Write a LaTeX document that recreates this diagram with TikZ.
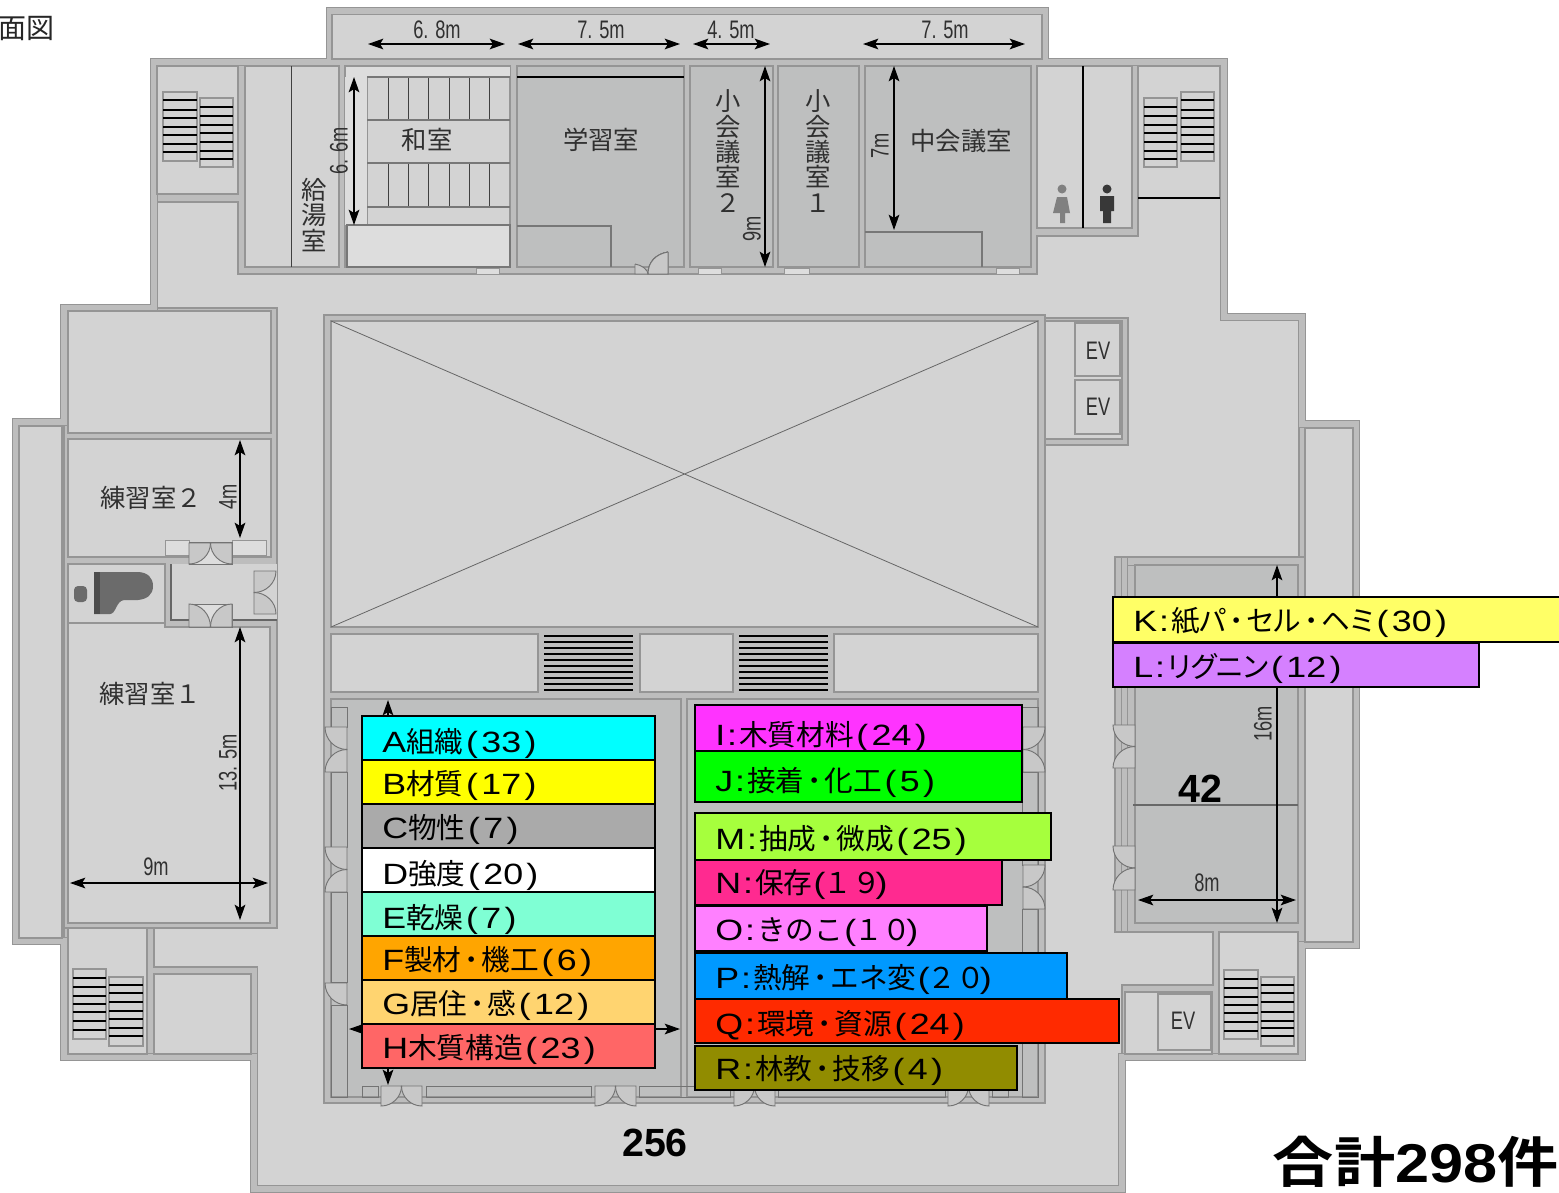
\documentclass[tikz,border=0pt]{standalone}
\usepackage{fontspec}
\usetikzlibrary{arrows.meta}
\setmainfont{Noto Sans CJK JP}[BoldFont={* Bold}]
\newfontfamily\pk[RawFeature=+palt]{Noto Sans CJK JP}
\newfontfamily\la[FakeStretch=1.22]{Liberation Sans}
\newfontfamily\dimf[FakeStretch=0.72]{Liberation Sans}
\newfontfamily\numf{Liberation Sans}
\definecolor{floorc}{HTML}{D3D3D3}
\definecolor{wallc}{HTML}{BDBDBD}
\definecolor{edgec}{HTML}{959595}
\definecolor{darkroom}{HTML}{BEBFBF}
\definecolor{lightroom}{HTML}{DDDDDD}
\definecolor{txt}{HTML}{303030}
\definecolor{cA}{RGB}{0,255,255}
\definecolor{cB}{RGB}{255,255,0}
\definecolor{cC}{RGB}{170,170,170}
\newcommand\Lt[1]{{\la\fontsize{22}{24}\selectfont #1}}
\newcommand\Pn[1]{\Lt{\kern2pt(\kern2.5pt#1\kern2.5pt)}}
\newcommand\Pf[1]{\Lt{\kern1pt(\kern-1.5pt}#1\Lt{\kern-4pt)}}
\newcommand\Cn[1]{\Lt{#1\kern1.5pt:\kern1.5pt}}
\newcommand\Dt{\kern2.2pt{\bfseries ･}\kern2.2pt}
\newcommand\Kn[1]{{\pk #1}}
\tikzset{
  wallline/.style={draw=edgec,double=wallc,double distance=4pt,line width=.8pt,line join=miter},
  block/.style={fill=wallc,draw=edgec,line width=.9pt},
  room/.style={fill=floorc,draw=edgec,line width=.9pt},
  droom/.style={fill=darkroom,draw=edgec,line width=.9pt},
  lroom/.style={fill=lightroom,draw=edgec,line width=.7pt},
  thinl/.style={draw=black!75,line width=.7pt},
  dimarrow/.style={draw=black,line width=1.2pt,{Stealth[length=11.5pt,width=8pt,inset=2.5pt]}-{Stealth[length=11.5pt,width=8pt,inset=2.5pt]}},
  cbox/.style={draw=black,line width=1.2pt},
  clab/.style={anchor=base west,inner sep=0pt,font=\fontsize{21.5}{24}\selectfont,text=black},
  rlab/.style={inner sep=0pt,font=\fontsize{19}{19}\selectfont,text=txt,align=center},
  dlab/.style={inner sep=0pt,font=\dimf\fontsize{19}{20}\selectfont,text=txt},
  biglab/.style={inner sep=0pt,font=\numf\bfseries\fontsize{29.5}{32}\selectfont,text=black},
  stairbox/.style={fill=floorc,draw=edgec,line width=.8pt},
  doorleaf/.style={fill=wallc!50!floorc,draw=black!55,line width=.7pt},
}
\newcommand\Rm[4]{\draw[room] (#1,#2) rectangle (#3,#4);}
\newcommand\Dr[4]{\draw[droom] (#1,#2) rectangle (#3,#4);}
\newcommand\Lr[4]{\draw[lroom] (#1,#2) rectangle (#3,#4);}
\newcommand\Stair[6]{\draw[stairbox] (#1,#3) rectangle (#2,#4);
  \foreach \s in {#5} \draw[black,line width=.8pt] (#1,#3+\s) -- (#2,#3+\s);
  \foreach \s in {#6} \draw[black,line width=2pt] (#1,#3+\s) -- (#2,#3+\s);}
\newcommand\Dense[4]{\fill[floorc!90!black] (#1,#2) rectangle (#3,#4);
  \foreach \s in {0,6,...,54} \draw[black,line width=.8pt] (#1,#2+\s+2) -- (#3,#2+\s+2);
  \foreach \s in {12,30,48} \draw[black,line width=1.6pt] (#1,#2+\s+2) -- (#3,#2+\s+2);}
\newcommand\Leaf[6]{\draw[doorleaf] (#1,#2) -- (#3,#4)
  .. controls ({#3+.55*(#5-#1)},{#4+.55*(#6-#2)}) and ({#5+.55*(#3-#1)},{#6+.55*(#4-#2)}) .. (#5,#6) -- cycle;}
\newcommand\DoorH[4]{\pgfmathsetmacro\mm{(#1+#2)/2}\Leaf{#1}{#3}{#1}{#4}{\mm}{#3}\Leaf{#2}{#3}{#2}{#4}{\mm}{#3}}
\newcommand\DoorV[4]{\pgfmathsetmacro\mm{(#1+#2)/2}\Leaf{#3}{#1}{#4}{#1}{#3}{\mm}\Leaf{#3}{#2}{#4}{#2}{#3}{\mm}}
\newcommand\Cb[8]{\draw[cbox,fill=#5] (#1,#2) rectangle (#3,#4); \node[clab] at (#7,#6) {#8};}
\begin{document}
\begin{tikzpicture}[x=.75pt,y=-.75pt]
\useasboundingbox (0,0) rectangle (1559,1192);
% floor
\fill[floorc] (330,11) -- (1045,11) -- (1045,62) -- (1224,62) -- (1224,317) -- (1302,317) -- (1302,424) -- (1356,424) -- (1356,945) -- (1302,945) -- (1302,1057) -- (1122,1057) -- (1122,1189) -- (254,1189) -- (254,1057) -- (64,1057) -- (64,941) -- (16,941) -- (16,422) -- (64,422) -- (64,308) -- (154,308) -- (154,62) -- (330,62) -- cycle;
% wall blocks
\draw[block] (154,62) -- (1224,62) -- (1224,198) -- (1138,198) -- (1138,236) -- (1037,236) -- (1037,274) -- (238,274) -- (238,202) -- (154,202) -- cycle;
\draw[block] (16,422) rectangle (68,941);
\draw[block] (64,308) rectangle (277,928);
\draw[block] (64,928) -- (154,928) -- (154,967) -- (257.5,967) -- (257.5,1057) -- (64,1057) -- cycle;
\draw[block] (1299,424) rectangle (1356,945);
\draw[block] (1115,557) -- (1305,557) -- (1305,1057) -- (1122,1057) -- (1122,985) -- (1213,985) -- (1213,932) -- (1115,932) -- cycle;
\draw[block] (1040,318) rectangle (1128,445);
\draw[block] (324,315) rectangle (1045,1103);
% outer wall
\draw[wallline] (330,11) -- (1045,11) -- (1045,62) -- (1224,62) -- (1224,317) -- (1302,317) -- (1302,424) -- (1356,424) -- (1356,945) -- (1302,945) -- (1302,1057) -- (1122,1057) -- (1122,1189) -- (254,1189) -- (254,1057) -- (64,1057) -- (64,941) -- (16,941) -- (16,422) -- (64,422) -- (64,308) -- (154,308) -- (154,62) -- (330,62) -- cycle;
\fill[floorc] (332,14.5) rectangle (1042,59);
\draw[edgec,line width=.9pt] (332,14.5) rectangle (1042,59);
\fill[wallc] (332,59.5) rectangle (1042,66);
% top row rooms
\Rm{157}{66}{238}{194}
\Rm{245}{66}{339}{267}
\draw[thinl] (291,66) -- (291,267);
\Rm{345}{66}{510}{267}
\Lr{345}{66}{510}{77}
\fill[lightroom] (345,77) rectangle (367,225);
\draw[edgec,line width=.7pt] (367,77) -- (367,225);
\foreach \vx in {388,408,428,449,469,489} \draw[thinl] (\vx,77) -- (\vx,120) (\vx,163) -- (\vx,207);
\foreach \hy in {77,120,163,207} \draw[edgec!80!black,line width=1pt] (367,\hy) -- (510,\hy);
\draw[edgec!80!black,fill=lightroom,line width=.8pt] (347,225) rectangle (510,267);
\Dr{517}{66}{684}{267}
\draw[black,line width=1.1pt] (517,77) -- (684,77);
\draw[edgec!80!black,line width=.8pt] (517,226) -- (611,226) -- (611,267);
\Dr{690}{66}{773}{267}
\Dr{778}{66}{859}{267}
\Dr{865}{66}{1031}{267}
\draw[edgec!80!black,line width=.8pt] (865,232) -- (982,232) -- (982,267);
\Rm{1037}{66}{1132}{228}
\draw[black,line width=1pt] (1083,66) -- (1083,228);
\Rm{1138}{66}{1220}{198}
\draw[black,line width=2pt] (1138,198) -- (1220,198);
% windows
\foreach \xa/\xb in {476/499,698/721,784/809,996/1019} \Lr{\xa}{268}{\xb}{274}
% door of study room
\draw[doorleaf] (668,252) -- (668,274) -- (648,274) .. controls (648,262) and (656,254) .. (668,252);
\draw[doorleaf] (635,264) -- (635,274) -- (648,274) .. controls (648,270) and (642,265) .. (635,264);
% stairs top
\Stair{163}{197}{92}{161}{26,35,60}{8,18,43,52}
\Stair{200}{233}{98}{167}{9,18,35,44,53}{27,61}
\Stair{1144}{1177}{98}{167}{9,18,35,44,53}{27,61}
\Stair{1181}{1214}{92}{161}{26,35,60}{8,18,43,52}
% toilets icons
\fill[black!50] (1062,189) circle (4.5);
\fill[black!50] (1057,197) -- (1067,197) -- (1070,213) -- (1065,213) -- (1065,223) -- (1060,223) -- (1060,213) -- (1053,213) -- cycle;
\fill[black!78] (1107,189) circle (4.5);
\fill[black!78] (1100,196) -- (1114,196) -- (1114,211) -- (1111,211) -- (1111,223) -- (1103,223) -- (1103,211) -- (1100,211) -- cycle;
% left block
\Rm{19}{426}{62}{938}
\Rm{68}{311}{271}{433}
\Rm{68}{439}{271}{557}
\Rm{68}{564}{165}{623}
\draw[room] (68,623) -- (165,623) -- (165,627) -- (270,627) -- (270,923) -- (68,923) -- cycle;
\fill[floorc] (171,564) rectangle (277,620);
\draw[black!60,line width=1pt] (171,564) -- (171,620) -- (277,620);
\Lr{165}{540}{189}{555}
\Lr{232}{540}{266}{555}
\draw[doorleaf,fill=lightroom] (189,542) rectangle (232,564);
\DoorH{189}{232}{543}{564}
\draw[doorleaf,fill=lightroom] (189,604) rectangle (232,627);
\DoorH{189}{232}{627}{604}
\DoorV{571}{614}{254}{276}
% piano
\fill[black!58] (94,572) -- (137,572) .. controls (148,572) and (153,578) .. (153,586) .. controls (153,595) and (147,599) .. (138,600) -- (124,600) .. controls (116,601) and (116,614) .. (110,614) -- (94,614) -- cycle;
\fill[black!70] (94,572) rectangle (100,614);
\fill[black!58,rounded corners=3pt] (74,586) rectangle (87,602);
% lower left
\Rm{68}{928}{147}{1054}
\Rm{154}{974}{251}{1054}
\Stair{73}{106}{969}{1039}{9,18,27,43,52,61}{35}
\Stair{109}{143}{977}{1046}{16,25,34,59}{8,42,51}
% atrium
\Rm{331}{321}{1038}{627}
\draw[black!60,line width=.6pt] (331,321) -- (1038,627) (331,627) -- (1038,321);
\Rm{331}{634}{538}{692}
\Rm{640}{634}{733}{692}
\Rm{834}{634}{1038}{692}
\Dense{544}{634}{633}{692}
\Dense{739}{634}{828}{692}
\Dr{331}{699}{681}{1097}
\Dr{687}{699}{1038}{1097}
% hall columns left
\foreach \ya/\yb in {707/727,772/847,892/982,1005/1097} {\draw[draw=black!55,line width=.7pt] (331,\ya) rectangle (347,\yb);}
\DoorV{727}{772}{347}{325}
\DoorV{847}{892}{347}{325}
\Leaf{347}{983}{325}{983}{347}{1005}
% hall columns right
\foreach \ya/\yb in {707/727,772/865,909/1097} {\draw[draw=black!55,line width=.7pt] (1022,\ya) rectangle (1038,\yb);}
\DoorV{727}{772}{1023}{1045}
\DoorV{865}{909}{1023}{1045}
% hall bottom
\foreach \xa/\xb in {362/378,426/591,639/730,778/945,992/1008} {\draw[draw=black!55,line width=.7pt] (\xa,1086) rectangle (\xb,1097);}
\DoorH{381}{422}{1086}{1106}
\DoorH{595}{636}{1086}{1106}
\DoorH{734}{775}{1086}{1106}
\DoorH{948}{989}{1086}{1106}
% EV block
\Rm{1045}{321}{1122}{439}
\Rm{1075}{323}{1120}{376}
\Rm{1075}{380}{1120}{434}
% right hall
\Dr{1135}{565}{1298}{923}
\draw[edgec!70!black,line width=.9pt] (1133,805) -- (1298,805);
\foreach \lx in {1115,1121,1127} \draw[edgec,line width=.7pt] (\lx,557) -- (\lx,932);
\draw[edgec,line width=.7pt] (1127,565) -- (1135,565) (1115,932) -- (1135,932) (1115,557) -- (1135,557);
\DoorV{725}{768}{1135}{1113}
\DoorV{846}{890}{1135}{1113}
\Rm{1305}{428}{1353}{942}
% lower right
\Rm{1125}{992}{1212}{1054}
\Rm{1158}{994}{1211}{1050}
\Rm{1219}{932}{1298}{1054}
\Stair{1224}{1258}{970}{1039}{9,18,35,43,52}{27,61}
\Stair{1261}{1294}{977}{1046}{8,16,25,51,59}{35,44}
% dimension arrows
\draw[dimarrow] (368,44) -- (505,44);
\draw[dimarrow] (518,44) -- (680,44);
\draw[dimarrow] (693,44) -- (770,44);
\draw[dimarrow] (863,44) -- (1025,44);
\draw[dimarrow] (354,77) -- (354,225);
\draw[dimarrow] (765,66) -- (765,267);
\draw[dimarrow] (894,66) -- (894,230);
\draw[dimarrow] (240,440) -- (240,538);
\draw[dimarrow] (240,627) -- (240,920);
\draw[dimarrow] (70,883) -- (268,883);
\draw[dimarrow] (388,700) -- (388,1085);
\draw[dimarrow] (349,1029) -- (680,1029);
\draw[dimarrow] (1277,565) -- (1277,923);
\draw[dimarrow] (1138,900) -- (1296,900);
% dimension labels
\node[dlab] (d1) at (437,30) {6. 8m};
\node[dlab] (d2) at (601,30) {7. 5m};
\node[dlab] (d3) at (731,30) {4. 5m};
\node[dlab] (d4) at (945,30) {7. 5m};
\node[dlab,rotate=90] (d5) at (339,151) {6. 6m};
\node[dlab,rotate=90] (d6) at (752,229) {9m};
\node[dlab,rotate=90] (d7) at (880,146) {7m};
\node[dlab,rotate=90] (d8) at (228,497) {4m};
\node[dlab,rotate=90] (d9) at (228,763) {13. 5m};
\node[dlab] (d10) at (156,867) {9m};
\node[dlab,rotate=90] (d11) at (1263,724) {16m};
\node[dlab] (d12) at (1207,883) {8m};
\node[dlab] (ev1) at (1098,351) {EV};
\node[dlab] (ev2) at (1098,407) {EV};
\node[dlab] (ev3) at (1183,1021) {EV};
% room labels
\node[rlab] (r1) at (427,140) {和室};
\node[rlab] (r2) at (601,140) {学習室};
\node[rlab] (r3) at (961,141) {中会議室};
\node[rlab] (r4) at (314,215) {給\\湯\\室};
\node[rlab] (r5) at (728,151) {小\\会\\議\\室\\２};
\node[rlab] (r6) at (818,151) {小\\会\\議\\室\\１};
\node[rlab] (r7) at (151,498) {練習室２};
\node[rlab] (r8) at (150,694) {練習室１};
\node[anchor=east,inner sep=0pt,font=\fontsize{21}{22}\selectfont,text=black!85] (title) at (55,29) {面図};
% coloured boxes
\Cb{362}{716}{655}{760}{cA}{752}{382}{\Lt{A}組織\Pn{33}}
\Cb{362}{760}{655}{804}{cB}{794}{382}{\Lt{B}材質\Pn{17}}
\Cb{362}{804}{655}{848}{cC}{838}{382}{\Lt{C}物性\Pn{7}}
\Cb{362}{848}{655}{892}{white}{884}{382}{\Lt{D}強度\Pn{20}}
\Cb{362}{892}{655}{936}{{rgb,255:red,127;green,255;blue,212}}{928}{382}{\Lt{E}乾燥\Pn{7}}
\Cb{362}{936}{655}{980}{{rgb,255:red,255;green,165;blue,0}}{970}{382}{\Lt{F}製材\Dt 機工\Pn{6}}
\Cb{362}{980}{655}{1024}{{rgb,255:red,255;green,212;blue,112}}{1014}{382}{\Lt{G}居住\Dt 感\Pn{12}}
\Cb{362}{1024}{655}{1068}{{rgb,255:red,255;green,102;blue,102}}{1058}{382}{\Lt{H}木質構造\Pn{23}}
\Cb{695}{705}{1022}{751}{{rgb,255:red,255;green,51;blue,255}}{745}{715}{\Cn{I}木質材料\Pn{24}}
\Cb{695}{751}{1022}{802}{{rgb,255:red,0;green,255;blue,0}}{791}{715}{\Cn{J}接着\Dt 化工\Pn{5}}
\Cb{695}{813}{1051}{860}{{rgb,255:red,166;green,255;blue,61}}{849}{715}{\Cn{M}抽成\Dt 微成\Pn{25}}
\Cb{695}{860}{1002}{905}{{rgb,255:red,255;green,42;blue,144}}{893}{715}{\Cn{N}保存\Pf{１９}}
\Cb{695}{906}{987}{951}{{rgb,255:red,255;green,128;blue,255}}{940}{715}{\Cn{O}きのこ\Pf{１０}}
\Cb{695}{953}{1067}{999}{{rgb,255:red,0;green,153;blue,255}}{988}{715}{\Cn{P}熱解\Dt エネ変\Pf{２０}}
\Cb{695}{999}{1119}{1043}{{rgb,255:red,255;green,42;blue,0}}{1034}{715}{\Cn{Q}環境\Dt 資源\Pn{24}}
\Cb{695}{1046}{1017}{1090}{{rgb,255:red,145;green,140;blue,0}}{1079}{715}{\Cn{R}林教\Dt 技移\Pn{4}}
\Cb{1113}{597}{1565}{642}{{rgb,255:red,255;green,255;blue,102}}{631}{1133}{\Cn{K}紙\Kn{パ}\Dt\Kn{セル}\Dt\Kn{ヘミ}\Pn{30}}
\Cb{1113}{643}{1479}{687}{{rgb,255:red,213;green,128;blue,255}}{677}{1133}{\Cn{L}\Kn{リグニン}\Pn{12}}
% totals
\node[biglab] (n1) at (655,1143) {256};
\node[biglab] (n2) at (1200,789) {42};
\node[anchor=base east,inner sep=0pt,xscale=1.12,font=\bfseries\fontsize{41}{45}\selectfont,text=black] (tot) at (1559,1182) {合計{\numf 298}件};
\end{tikzpicture}
\end{document}
